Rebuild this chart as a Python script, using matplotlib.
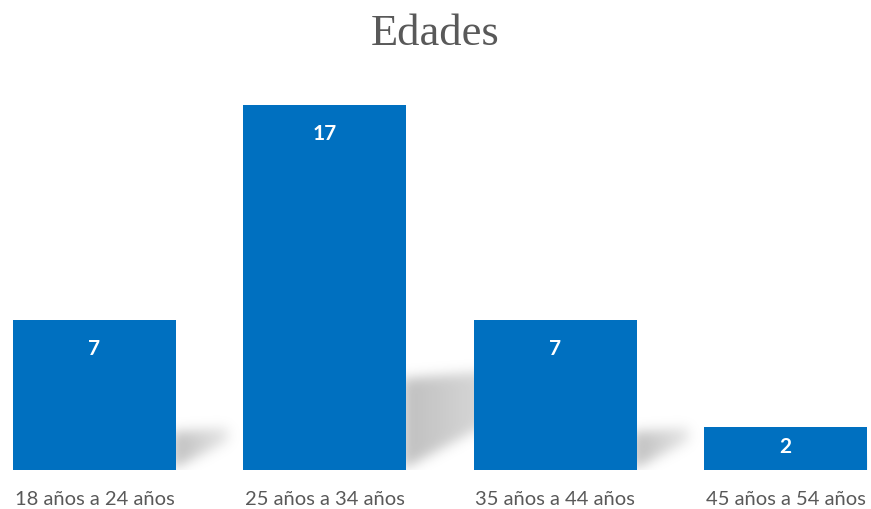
import numpy as np
import matplotlib.pyplot as plt
from matplotlib.path import Path

categorias = ['18 años a 24 años', '25 años a 34 años', '35 años a 44 años', '45 años a 54 años']
valores = [7, 17, 7, 2]
titulo = 'Edades'

azul = '#0070C0'
gris_texto = '#595959'
ancho = 0.707

fig = plt.figure(figsize=(8.71, 5.10), dpi=100)
ax = fig.add_axes([13 / 871, 39 / 510, 854 / 871, 365 / 510])

x = np.arange(len(valores))
xlim = (-ancho / 2, len(valores) - 1 + ancho / 2)
ylim = (0, max(valores))
ax.set_xlim(xlim)
ax.set_ylim(ylim)

# sombra en perspectiva detrás de cada barra, rasterizada y desenfocada
nx, ny = 854, 365
gx = np.linspace(xlim[0], xlim[1], nx)
gy = np.linspace(ylim[0], ylim[1], ny)
XX, YY = np.meshgrid(gx, gy)
pts = np.column_stack([XX.ravel(), YY.ravel()])
sombra = np.zeros((ny, nx))
for xi, v in zip(x, valores):
    xr = xi + ancho / 2
    ext = 0.032 * v
    poly = [(xr - 0.02, 0), (xr - 0.02, 0.25 * v), (xr + ext, 0.28 * v), (xr + ext, 0.19 * v)]
    dentro = Path(poly).contains_points(pts).reshape(ny, nx)
    desvanece = np.clip(1 - (XX - xr) / ext * 0.6, 0, 1)
    sombra = np.maximum(sombra, dentro * desvanece)

sigma = 6
k = np.arange(-3 * sigma, 3 * sigma + 1)
kern = np.exp(-k ** 2 / (2 * sigma ** 2))
kern /= kern.sum()
sombra = np.apply_along_axis(lambda r: np.convolve(r, kern, mode='same'), 1, sombra)
sombra = np.apply_along_axis(lambda c: np.convolve(c, kern, mode='same'), 0, sombra)

img = np.zeros((ny, nx, 4))
img[..., :3] = 0.55
img[..., 3] = sombra * 0.55
ax.imshow(img, extent=(xlim[0], xlim[1], ylim[0], ylim[1]), origin='lower',
          aspect='auto', zorder=1, interpolation='bilinear')

barras = ax.bar(x, valores, width=ancho, color=azul, zorder=2)

# etiquetas de valor dentro de la barra
px_por_unidad = 365 / max(valores)
for xi, v in zip(x, valores):
    off = min(28, v * px_por_unidad * 0.44)
    ax.annotate(str(v), (xi, v), xytext=(0, -off * 72 / 100), textcoords='offset points',
                ha='center', va='center', color='white', fontsize=15,
                fontweight='bold', family='Lato', zorder=3)

ax.set_xticks(x)
ax.set_xticklabels(categorias, fontsize=14.5, color=gris_texto, family='Lato')
ax.tick_params(axis='x', length=0, pad=14.5)
ax.set_yticks([])
for s in ax.spines.values():
    s.set_visible(False)

fig.text(0.5, 1 - 45 / 510, titulo, ha='center', va='baseline',
         fontsize=32, color=gris_texto, family='Liberation Serif')

fig.savefig('out.png', dpi=100)
